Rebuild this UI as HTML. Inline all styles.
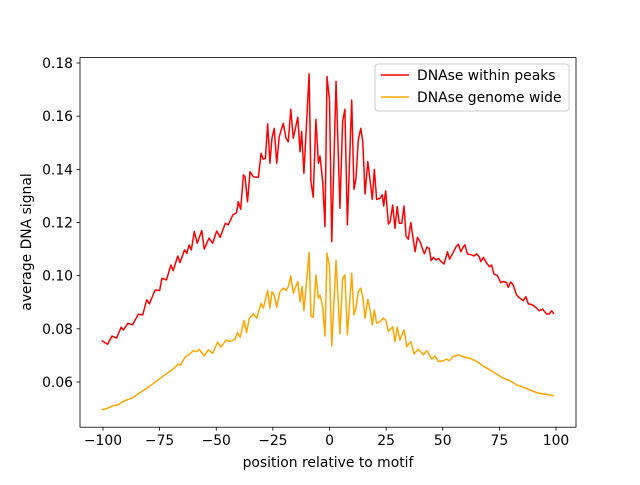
<!DOCTYPE html>
<html><head><meta charset="utf-8"><style>
body{margin:0;background:#fff;}
svg{font-family:"DejaVu Sans","Liberation Sans",sans-serif;}
</style></head><body>
<svg id="chart" width="640" height="480" xmlns="http://www.w3.org/2000/svg">
<rect width="640" height="480" fill="#fff"/>
<g id="plot"></g>
<rect x="80" y="57.6" width="496" height="369.6" fill="none" stroke="#000" stroke-width="0.8"/>
<g id="xt"></g><g id="yt"></g>
<text x="328" y="467" font-size="13.9" text-anchor="middle">position relative to motif</text>
<text transform="translate(31,242) rotate(-90)" font-size="13.9" text-anchor="middle">average DNA signal</text>
<g>
<rect x="375" y="64" width="194" height="47" rx="3" fill="#fff" fill-opacity="0.8" stroke="#ccc" stroke-width="1"/>
<g>
<line x1="381" y1="75" x2="409" y2="75" stroke="#ff0000" stroke-width="1.5"/>
<text x="417" y="80" font-size="13.9">DNAse within peaks</text></g>
<g>
<line x1="381" y1="97" x2="409" y2="97" stroke="#ffa500" stroke-width="1.5"/>
<text x="417" y="102" font-size="13.9">DNAse genome wide</text></g>
</g>
</svg>
<script>
const xTicks=[-100,-75,-50,-25,0,25,50,75,100];
const yTicks=[0.06,0.08,0.10,0.12,0.14,0.16,0.18];
const yTickLabels=["0.06","0.08","0.10","0.12","0.14","0.16","0.18"];
const redX=[-100.6,-98,-96,-94,-92,-91,-89,-87,-84.4,-82.5,-80.7,-79.5,-77,-75,-74,-72,-70,-69,-67,-66,-64,-63,-62,-61,-59.7,-58.4,-56.4,-55.3,-53.2,-51.6,-49.8,-48.3,-46,-44.7,-42.7,-41,-40.3,-39.2,-38,-37.3,-36.2,-35.1,-33.6,-31.4,-30.2,-29.2,-28.3,-27.3,-26.3,-25.4,-24.4,-23.3,-22.2,-20.4,-19.2,-18.2,-17.1,-16,-14,-13,-12.3,-11.3,-9,-8.2,-7.2,-6,-4.9,-4.2,-3,-2,-1.1,0,1,2.9,4.6,5.8,6.8,7.9,9.8,10.8,11.7,12.7,13.8,14.7,15.7,16.9,17.9,18.9,19.8,20.8,22.3,23.3,23.9,24.8,26,26.8,27.9,28.9,29.9,30.8,31.9,32.9,33.8,34.8,35.9,36.8,37.8,38.8,40,41.2,41.9,43,44,44.9,45.9,47,48.1,49.3,50.6,52.1,53,54.4,55.9,56.9,58,59.1,59.8,60.9,62.8,63.8,65,66.1,66.8,67.9,69.4,70.6,71.6,72.6,74.1,75.6,76.7,78.2,78.9,80,81.1,82.6,84.1,85.5,86.7,87.8,89.7,91.5,92.6,94.1,95.8,97,98.1,99.1];
const redY=[0.0756,0.0742,0.0773,0.0765,0.0806,0.0796,0.0821,0.0815,0.0855,0.0852,0.0909,0.0894,0.0946,0.0944,0.099,0.0984,0.104,0.1019,0.1074,0.1049,0.1097,0.1084,0.1115,0.1097,0.1166,0.1122,0.117,0.11,0.1141,0.1122,0.1168,0.1144,0.1197,0.1191,0.1228,0.1237,0.1278,0.125,0.1379,0.1372,0.1278,0.1391,0.1372,0.137,0.146,0.1438,0.1441,0.1571,0.1423,0.1517,0.1554,0.1423,0.1523,0.1573,0.1517,0.1504,0.1626,0.1517,0.1596,0.1466,0.1542,0.1385,0.1759,0.1354,0.1295,0.1588,0.1423,0.145,0.1354,0.1184,0.1749,0.1661,0.1128,0.1731,0.1253,0.158,0.1626,0.1191,0.1661,0.1325,0.1366,0.151,0.1554,0.1504,0.1307,0.1429,0.136,0.1287,0.14,0.1287,0.1291,0.1304,0.1262,0.1319,0.1194,0.1203,0.1266,0.1178,0.126,0.1197,0.1197,0.1262,0.1149,0.1137,0.12,0.1147,0.109,0.1144,0.1128,0.1097,0.1082,0.1107,0.1103,0.1057,0.1069,0.1059,0.1065,0.1053,0.1044,0.109,0.1062,0.1084,0.1109,0.1118,0.109,0.1109,0.1116,0.1082,0.1078,0.1074,0.1082,0.1071,0.1053,0.1069,0.1047,0.1034,0.104,0.1006,0.1001,0.0974,0.0978,0.0974,0.0956,0.0976,0.0965,0.0927,0.0915,0.0906,0.0921,0.0894,0.089,0.0877,0.0868,0.0874,0.0856,0.0856,0.0868,0.0856];
const orangeX=[-100.6,-98.4,-95.5,-93.3,-91.7,-89.5,-87.3,-83.7,-80,-76.3,-72.6,-69,-66.8,-65.7,-63.8,-61.6,-60.1,-58.6,-57.5,-55.3,-53.5,-51.6,-49.4,-47.9,-45.7,-44,-41.7,-40.7,-39.5,-37.7,-36.6,-35.4,-33.6,-32.1,-30.7,-30.2,-29.2,-27.3,-26.3,-25.4,-24.4,-23.3,-21.9,-20.4,-19.2,-18.2,-17.1,-16,-14,-13,-12.1,-11.3,-9,-8.2,-7.2,-6,-4.9,-4.2,-3,-2,-1.1,0,1,2.9,4.6,5.8,6.8,7.9,9.8,10.8,11.7,12.7,13.8,14.7,15.7,16.9,17.9,18.9,19.8,20.8,22.3,23.8,24.8,26,27.9,28.9,29.9,31.1,32.9,34.1,35.9,37.3,39.2,41.4,43,45.2,46.6,48.1,50.3,51.7,52.9,54.4,56.9,59.1,62,65,67.9,70.9,73.8,76.7,79.7,82.6,85.5,88.5,91.5,94.4,97.4,99.1];
const orangeY=[0.0495,0.05,0.0511,0.0514,0.0524,0.0533,0.0539,0.056,0.058,0.0604,0.0627,0.0649,0.0667,0.0664,0.0693,0.0706,0.0718,0.0714,0.0723,0.0698,0.0721,0.0708,0.075,0.0731,0.0758,0.0752,0.0761,0.0786,0.0768,0.0831,0.0786,0.084,0.0856,0.084,0.0883,0.0896,0.0878,0.0944,0.0878,0.094,0.0927,0.0881,0.094,0.0953,0.0944,0.0959,0.0999,0.0934,0.0978,0.0902,0.0959,0.0868,0.1087,0.0848,0.0843,0.1003,0.0915,0.0927,0.0883,0.0773,0.1084,0.1034,0.0736,0.1057,0.0781,0.099,0.1003,0.0777,0.1009,0.0852,0.0878,0.094,0.0953,0.0921,0.084,0.0911,0.0871,0.0815,0.0871,0.0821,0.0827,0.084,0.0833,0.079,0.0808,0.0752,0.0806,0.0758,0.0796,0.0733,0.0752,0.0706,0.0723,0.0702,0.0718,0.0686,0.0698,0.0677,0.068,0.0686,0.068,0.0695,0.0702,0.0695,0.0689,0.0677,0.066,0.0645,0.063,0.0614,0.0605,0.0589,0.058,0.057,0.056,0.0555,0.0551,0.0548];

const NS="http://www.w3.org/2000/svg";
const xs=v=>329.5+2.265*v;
const ys=v=>63+(0.18-v)*2658.3;
function mk(t,a,p){const e=document.createElementNS(NS,t);for(const k in a)e.setAttribute(k,a[k]);p.appendChild(e);return e;}
const xt=document.getElementById('xt'),yt=document.getElementById('yt'),plot=document.getElementById('plot');
xTicks.forEach(v=>{
  const l=mk('line',{x1:xs(v),x2:xs(v),y1:427.2,y2:430.7,stroke:'#000','stroke-width':0.8},xt);
  
  
  const t=mk('text',{x:xs(v),y:445,'font-size':13.9,'text-anchor':'middle'},xt);t.textContent=(v<0?'\u2212':'')+Math.abs(v);
  
  
});
yTicks.forEach((v,i)=>{
  const l=mk('line',{x1:76.5,x2:80,y1:ys(v),y2:ys(v),stroke:'#000','stroke-width':0.8},yt);
  
  
  const t=mk('text',{x:73,y:ys(v)+5,'font-size':13.9,'text-anchor':'end'},yt);t.textContent=yTickLabels[i];
  
  
});
function series(X,Y,c,name){
  const d=X.map((x,i)=>(i?'L':'M')+xs(x).toFixed(2)+','+ys(Y[i]).toFixed(2)).join('');
  const p=mk('path',{d:d,fill:'none',stroke:c,'stroke-width':1.5,'stroke-linejoin':'round'},plot);
  
  
}
series(redX,redY,'#ff0000','series-within-peaks');
series(orangeX,orangeY,'#ffa500','series-genome-wide');
</script>
</body></html>
